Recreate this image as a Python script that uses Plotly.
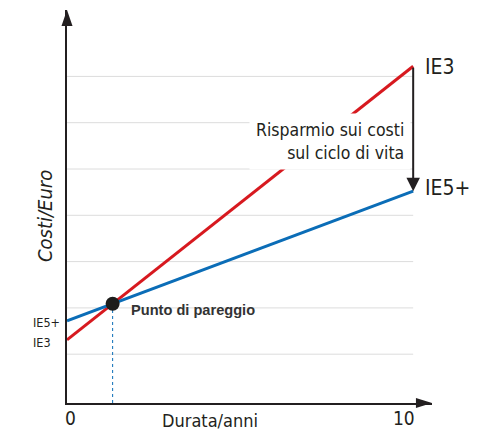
import plotly.graph_objects as go

# ---- data ----
durata = [0, 10.3]                 # years
costi_ie3 = [1.31, 7.22]           # cost units (grid steps)
costi_ie5 = [1.72, 4.52]
griglia = [1, 2, 3, 4, 5, 6, 7]
x_ticks = [0, 10]
x_tick_labels = ["0", "10"]

RED = "#d7191f"
BLUE = "#0b6db7"
INK = "#231f20"
NARROW = "Liberation Sans Narrow, DejaVu Sans Condensed, Arial Narrow, sans-serif"

# break-even point computed from the two lines
s3 = (costi_ie3[1] - costi_ie3[0]) / (durata[1] - durata[0])
s5 = (costi_ie5[1] - costi_ie5[0]) / (durata[1] - durata[0])
x_be = (costi_ie5[0] - costi_ie3[0]) / (s3 - s5)
y_be = costi_ie3[0] + s3 * x_be

X_RANGE = [0, 10.86]
Y_RANGE = [-0.054, 8.434]

fig = go.Figure()

fig.add_trace(go.Scatter(x=durata, y=costi_ie3, mode="lines",
                         line=dict(color=RED, width=3), hoverinfo="skip"))
fig.add_trace(go.Scatter(x=durata, y=costi_ie5, mode="lines",
                         line=dict(color=BLUE, width=3), hoverinfo="skip"))
fig.add_trace(go.Scatter(x=[x_be], y=[y_be], mode="markers",
                         marker=dict(color="#1d1d1b", size=14), hoverinfo="skip"))

shapes = []
for g in griglia:
    shapes.append(dict(type="line", xref="x", yref="y", x0=0, x1=durata[1], y0=g, y1=g,
                       line=dict(color="#dcdcdc", width=1), layer="below"))
# dotted drop line from the break-even point
shapes.append(dict(type="line", xref="x", yref="y", x0=x_be, x1=x_be, y0=Y_RANGE[0], y1=y_be,
                   line=dict(color=BLUE, width=1, dash="dot"), layer="below"))
# axis arrowheads
shapes.append(dict(type="path", xref="paper", yref="paper",
                   path="M 0 1 L -0.0151 0.959 L 0.0151 0.959 Z",
                   fillcolor=INK, line=dict(width=0)))
shapes.append(dict(type="path", xref="paper", yref="paper",
                   path="M 1 0 L 0.956 0.0127 L 0.956 -0.0127 Z",
                   fillcolor=INK, line=dict(width=0)))

annotations = []
# savings arrow
annotations.append(dict(x=durata[1], y=costi_ie5[1], ax=durata[1], ay=costi_ie3[1],
                        xref="x", yref="y", axref="x", ayref="y", text="",
                        showarrow=True, arrowhead=2, arrowsize=1.35, arrowwidth=2,
                        arrowcolor=INK, standoff=0, startstandoff=0))
annotations.append(dict(x=durata[1], y=5.6, xref="x", yref="y", xanchor="right", yanchor="middle",
                        xshift=-2, text="Risparmio sui costi<br>sul ciclo di vita", align="right",
                        showarrow=False, bgcolor="white", borderpad=6,
                        font=dict(family=NARROW, size=17.5, color=INK)))
# right-hand labels
annotations.append(dict(x=durata[1], y=costi_ie3[1], xref="x", yref="y", xanchor="left",
                        yanchor="middle", xshift=10, yshift=-1, text="IE3", showarrow=False,
                        font=dict(family=NARROW, size=21, color=INK)))
annotations.append(dict(x=durata[1], y=costi_ie5[1], xref="x", yref="y", xanchor="left",
                        yanchor="middle", xshift=10, yshift=3, text="IE5+", showarrow=False,
                        font=dict(family=NARROW, size=21, color=INK)))
# left-hand labels
annotations.append(dict(x=-0.0986, y=costi_ie5[0], xref="paper", yref="y", xanchor="left",
                        yanchor="middle", yshift=-2, text="IE5+", showarrow=False,
                        font=dict(family=NARROW, size=12.5, color=INK)))
annotations.append(dict(x=-0.0986, y=costi_ie3[0], xref="paper", yref="y", xanchor="left",
                        yanchor="middle", yshift=-3, text="IE3", showarrow=False,
                        font=dict(family=NARROW, size=12.5, color=INK)))
# break-even label
annotations.append(dict(x=x_be, y=y_be, xref="x", yref="y", xanchor="left", yanchor="middle",
                        xshift=16, yshift=-6, text="<b>Punto di pareggio</b>", showarrow=False,
                        font=dict(family="Liberation Sans, Arial, sans-serif", size=14.6, color="#333333")))
# x tick labels
for xv, lab in zip(x_ticks, x_tick_labels):
    annotations.append(dict(x=xv, y=0, xref="x", yref="paper", xanchor="center", yanchor="middle",
                            xshift=3 if xv == 0 else 1, yshift=-15, text=lab, showarrow=False,
                            font=dict(family=NARROW, size=19, color=INK)))
# axis titles
annotations.append(dict(x=0.392, y=0, xref="paper", yref="paper", xanchor="center", yanchor="middle",
                        yshift=-17, text="Durata/anni", showarrow=False,
                        font=dict(family=NARROW, size=18, color=INK)))
annotations.append(dict(x=-0.06, y=0.476, xref="paper", yref="paper", xanchor="center",
                        yanchor="middle", textangle=-90, text="<i>Costi/Euro</i>", showarrow=False,
                        font=dict(family=NARROW, size=20, color=INK)))

# the page body has an 8px default margin, so the figure is 8px smaller
# and its margins are shifted so the plot lands where the reference has it
fig.update_layout(
    width=489, height=423,
    margin=dict(l=59, r=65, t=2, b=28),
    paper_bgcolor="white", plot_bgcolor="white",
    showlegend=False,
    xaxis=dict(range=X_RANGE, showgrid=False, zeroline=False, showticklabels=False, ticks="",
               showline=True, linecolor=INK, linewidth=1.5, fixedrange=True),
    yaxis=dict(range=Y_RANGE, showgrid=False, zeroline=False, showticklabels=False, ticks="",
               showline=True, linecolor=INK, linewidth=1.5, fixedrange=True),
    shapes=shapes,
    annotations=annotations,
)

fig.write_html("out.html", config={"displayModeBar": False})
